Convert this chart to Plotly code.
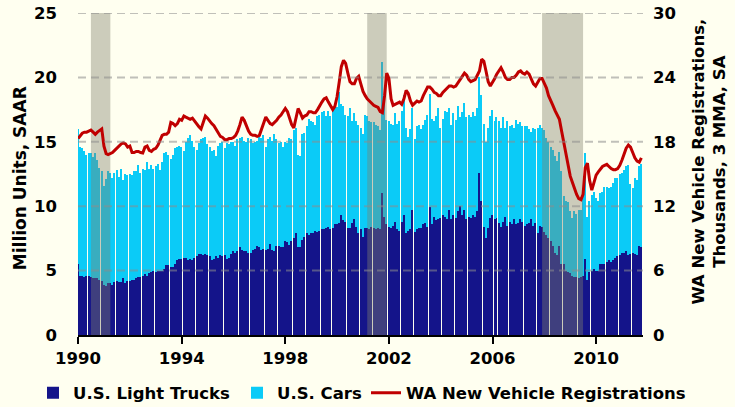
import pandas as pd
import plotly.graph_objects as go

# ---------------- data (monthly, Jan 1990 - Oct 2011) ----------------
us_light_trucks = [
    5.5, 4.6, 4.6, 4.5, 4.6, 4.6, 4.5, 4.4, 4.4, 4.4, 4.3, 4.2,   # 1990
    3.9, 3.8, 4.0, 4.0, 3.9, 4.1, 4.2, 4.1, 4.1, 4.4, 4.0, 4.2,   # 1991
    4.2, 4.3, 4.3, 4.4, 4.5, 4.5, 4.6, 4.7, 4.6, 4.8, 4.9, 5.0,   # 1992
    4.9, 5.0, 5.0, 5.0, 5.1, 5.4, 5.4, 5.3, 5.3, 5.5, 5.8, 5.9,   # 1993
    5.9, 6.0, 6.0, 5.8, 5.9, 5.8, 6.0, 6.1, 6.3, 6.3, 6.2, 6.3,   # 1994
    6.2, 6.1, 5.8, 5.9, 6.1, 6.0, 6.2, 6.1, 6.2, 5.9, 6.0, 6.3,   # 1995
    6.5, 6.4, 6.5, 6.8, 6.6, 6.5, 6.5, 6.4, 6.4, 6.6, 6.7, 6.9,   # 1996
    6.8, 6.6, 6.7, 6.6, 6.7, 7.1, 6.6, 6.5, 6.9, 6.9, 6.8, 6.8,   # 1997
    7.3, 7.2, 7.0, 7.3, 7.5, 7.9, 6.8, 6.8, 7.4, 7.6, 7.9, 7.8,   # 1998
    7.9, 7.9, 8.1, 8.0, 8.1, 8.2, 8.2, 8.3, 8.4, 8.2, 8.3, 8.6,   # 1999
    8.6, 8.7, 9.3, 8.9, 8.8, 8.3, 8.3, 8.7, 9.0, 8.4, 7.9, 8.2,   # 2000
    7.6, 8.3, 8.3, 8.2, 8.4, 8.3, 8.2, 8.3, 8.2, 11.0, 9.2, 8.6,  # 2001
    8.4, 8.3, 8.5, 8.8, 8.2, 8.1, 8.8, 9.3, 7.9, 8.1, 8.2, 9.7,   # 2002
    8.0, 8.2, 8.3, 8.3, 8.6, 8.7, 8.4, 9.9, 8.6, 9.2, 8.9, 9.0,   # 2003
    9.1, 9.3, 9.2, 9.0, 9.7, 9.0, 9.3, 9.1, 9.6, 10.0, 9.3, 9.7,  # 2004
    9.0, 9.2, 9.1, 9.3, 9.2, 9.6, 12.6, 10.4, 8.4, 7.5, 8.3, 9.1, # 2005
    9.3, 9.0, 9.1, 8.7, 8.4, 8.8, 9.2, 8.5, 8.8, 8.6, 9.0, 8.6,   # 2006
    8.7, 9.0, 8.8, 8.5, 8.6, 8.7, 9.0, 8.5, 8.7, 7.9, 8.5, 8.4,   # 2007
    8.0, 7.8, 7.5, 7.3, 6.9, 6.4, 6.2, 6.9, 5.5, 5.5, 5.0, 4.9,   # 2008
    4.8, 4.6, 4.5, 4.5, 4.4, 4.5, 4.6, 5.9, 4.3, 4.9, 5.0, 5.1,   # 2009
    5.0, 5.0, 5.5, 5.5, 5.5, 5.7, 5.8, 5.7, 5.8, 6.0, 6.1, 6.2,   # 2010
    6.4, 6.4, 6.5, 6.2, 6.3, 6.4, 6.3, 6.2, 6.9, 6.8,             # 2011
]

us_cars = [
    10.5, 10.0, 9.9, 9.8, 9.4, 9.5, 9.6, 9.4, 9.7, 9.2, 8.7, 8.5,  # 1990
    7.7, 8.3, 8.7, 8.6, 8.3, 8.5, 8.6, 8.2, 8.8, 7.6, 8.5, 8.2,    # 1991
    8.3, 8.1, 8.4, 8.3, 8.7, 8.1, 8.3, 8.1, 8.8, 8.1, 8.3, 7.9,    # 1992
    8.2, 8.3, 7.8, 8.4, 9.0, 8.8, 8.6, 8.4, 8.7, 9.0, 8.8, 8.8,    # 1993
    8.7, 8.3, 9.0, 9.5, 9.6, 9.3, 8.6, 8.3, 8.6, 8.9, 9.1, 9.1,    # 1994
    8.6, 8.5, 8.5, 8.5, 7.8, 8.7, 8.7, 8.9, 8.3, 9.0, 8.8, 8.7,    # 1995
    8.5, 8.3, 8.7, 8.5, 8.8, 8.6, 8.5, 8.9, 8.8, 8.3, 8.3, 8.2,    # 1996
    8.6, 8.7, 8.8, 8.0, 8.5, 8.3, 8.5, 9.1, 8.3, 8.0, 8.2, 7.8,    # 1997
    7.7, 7.7, 8.3, 7.9, 8.4, 8.2, 7.2, 7.1, 8.2, 8.1, 8.3, 9.0,    # 1998
    8.7, 8.6, 8.2, 9.0, 9.0, 9.1, 9.2, 8.7, 9.0, 8.8, 9.3, 9.3,    # 1999
    9.1, 10.2, 8.6, 8.9, 8.3, 8.7, 9.3, 7.9, 8.2, 8.2, 8.4, 7.9,   # 2000
    8.0, 8.8, 8.7, 8.4, 8.1, 8.2, 8.1, 7.9, 7.7, 10.2, 8.9, 8.1,   # 2001
    8.2, 8.1, 7.8, 8.4, 8.2, 8.5, 8.6, 9.3, 8.2, 7.3, 7.8, 7.9,    # 2002
    7.2, 8.0, 8.0, 7.7, 7.7, 8.0, 8.7, 8.8, 8.2, 7.4, 8.1, 8.6,    # 2003
    7.0, 7.5, 8.2, 8.3, 7.9, 7.3, 7.9, 7.6, 8.2, 6.9, 8.0, 8.3,    # 2004
    7.9, 7.9, 7.8, 8.0, 7.8, 8.0, 7.4, 8.2, 8.0, 7.5, 7.8, 7.9,    # 2005
    8.2, 7.6, 7.8, 7.9, 7.7, 8.1, 6.9, 8.1, 7.4, 7.7, 7.1, 8.1,    # 2006
    7.7, 7.5, 7.4, 7.7, 7.6, 7.3, 6.8, 7.6, 7.3, 8.2, 7.8, 7.7,    # 2007
    7.9, 7.5, 7.5, 7.3, 7.5, 7.5, 7.3, 7.3, 7.2, 5.3, 5.4, 5.4,    # 2008
    4.8, 4.5, 5.1, 4.9, 5.3, 5.2, 6.6, 8.2, 4.9, 5.5, 5.9, 6.0,    # 2009
    5.6, 5.4, 5.5, 5.6, 6.0, 5.8, 5.6, 5.8, 6.0, 6.2, 6.1, 6.3,    # 2010
    6.2, 6.4, 6.6, 7.0, 5.4, 5.0, 5.9, 5.8, 6.2, 6.5,              # 2011
]

wa_registrations = [
    18.3, 18.6, 18.8, 18.9, 18.9, 19.0, 19.1, 18.9, 18.7, 18.9, 19.1, 19.2,  # 1990
    17.6, 16.9, 16.8, 16.9, 17.0, 17.2, 17.4, 17.6, 17.8, 17.9, 17.8, 17.5,  # 1991
    17.6, 17.0, 17.0, 17.1, 17.1, 17.0, 16.95, 17.5, 17.6, 17.2, 17.1, 17.3, # 1992
    17.4, 17.7, 18.1, 18.6, 18.7, 18.7, 18.9, 19.8, 19.7, 19.5, 19.7, 20.1,  # 1993
    20.0, 20.4, 20.3, 20.2, 20.1, 20.2, 19.9, 19.7, 19.4, 19.2, 19.8, 20.4,  # 1994
    20.2, 19.9, 19.7, 19.5, 19.2, 18.8, 18.5, 18.4, 18.2, 18.2, 18.3, 18.3,  # 1995
    18.4, 18.6, 19.0, 19.6, 20.3, 20.0, 19.5, 19.0, 18.7, 18.6, 18.6, 18.5,  # 1996
    18.6, 19.2, 19.8, 20.3, 20.0, 19.7, 19.6, 19.8, 20.0, 20.3, 20.5, 20.8,  # 1997
    21.1, 20.8, 20.3, 19.6, 19.3, 20.4, 21.1, 20.7, 20.2, 20.4, 20.5, 20.8,  # 1998
    20.8, 20.7, 20.7, 21.0, 21.4, 21.7, 22.0, 22.1, 21.7, 21.3, 21.0, 21.3,  # 1999
    22.2, 23.6, 25.0, 25.6, 25.3, 24.4, 23.6, 23.4, 23.4, 23.9, 24.1, 23.4,  # 2000
    22.7, 22.3, 22.0, 21.8, 21.6, 21.4, 21.3, 21.2, 20.8, 20.7, 22.3, 24.4,  # 2001
    23.9, 22.0, 21.4, 21.5, 21.6, 21.7, 21.5, 22.0, 22.8, 22.5, 21.8, 21.4,  # 2002
    21.6, 21.8, 21.7, 21.8, 22.3, 22.8, 23.1, 23.1, 22.9, 22.6, 22.5, 22.3,  # 2003
    22.3, 22.6, 22.8, 23.0, 23.2, 23.2, 23.1, 23.2, 23.5, 23.7, 24.0, 24.4,  # 2004
    24.2, 23.8, 23.6, 23.7, 23.8, 24.2, 24.6, 25.7, 25.5, 24.6, 23.6, 23.2,  # 2005
    23.5, 23.9, 24.3, 24.6, 24.9, 24.5, 24.0, 23.8, 23.8, 24.0, 24.0, 24.2,  # 2006
    24.5, 24.6, 24.4, 24.3, 24.5, 24.3, 23.9, 23.4, 23.2, 23.6, 23.9, 23.9,  # 2007
    23.5, 23.0, 22.3, 21.9, 21.4, 20.9, 20.5, 20.1, 19.0, 18.0, 16.9, 15.8,  # 2008
    14.8, 14.2, 13.6, 13.1, 12.7, 12.6, 13.1, 15.6, 16.0, 14.4, 13.5, 14.3,  # 2009
    14.9, 15.2, 15.5, 15.7, 15.8, 15.9, 15.7, 15.5, 15.4, 15.4, 15.5, 15.8,  # 2010
    16.3, 16.9, 17.4, 17.7, 17.5, 17.0, 16.5, 16.2, 16.1, 16.5,              # 2011
]

recession_starts = ["1990-07-01", "2001-03-01", "2007-12-01"]
recession_ends = ["1991-04-01", "2001-12-01", "2009-07-01"]

year_ticks = [1990, 1994, 1998, 2002, 2006, 2010]
left_ticks = [0, 5, 10, 15, 20, 25]
right_ticks = [0, 6, 12, 18, 24, 30]

# ---------------- styling ----------------
BG = "#FFFFF0"
NAVY = "#14148A"
CYAN = "#0BCBF7"
RED = "#C00000"
FONT = "DejaVu Sans"
W, H = 735, 407

months = pd.date_range("1990-01-01", periods=len(us_light_trucks), freq="MS")
y_top = max(left_ticks)
y2_top = max(right_ticks)

fig = go.Figure()

fig.add_trace(go.Bar(x=months, y=us_light_trucks, name="U.S. Light Trucks",
                     marker=dict(color=NAVY, line=dict(width=0)), yaxis="y",
                     legend="legend"))
fig.add_trace(go.Bar(x=months, y=us_cars, name="U.S. Cars",
                     marker=dict(color=CYAN, line=dict(width=0)), yaxis="y",
                     legend="legend2"))

# recession bands drawn over the bars, under the line
for s, e in zip(recession_starts, recession_ends):
    fig.add_trace(go.Scatter(x=[s, s, e, e, s], y=[0, y_top, y_top, 0, 0],
                             fill="toself", mode="none",
                             fillcolor="rgba(128,128,108,0.40)",
                             showlegend=False, hoverinfo="skip", yaxis="y"))

fig.add_trace(go.Scatter(x=months, y=wa_registrations, name="WA New Vehicle Registrations",
                         mode="lines", line=dict(color=RED, width=3), yaxis="y2",
                         legend="legend3"))

# dashed gridlines drawn above bars (semi-transparent)
for v in left_ticks[1:]:
    fig.add_shape(type="line", xref="paper", x0=0, x1=1, yref="y", y0=v, y1=v,
                  line=dict(color="rgba(140,140,140,0.55)", width=2, dash="8px,5px"),
                  layer="above")

tickfont = dict(family=FONT, size=16.5, color="black", weight="bold")
legfont = dict(family=FONT, size=16.5, color="black", weight="bold")


def leg(px):
    return dict(orientation="h", xref="container", x=px / W, xanchor="left",
                yref="container", y=(H - 393) / H, yanchor="middle",
                font=legfont, bgcolor="rgba(0,0,0,0)")


fig.update_layout(
    width=W, height=H,
    margin=dict(l=78, r=92, t=13, b=72, autoexpand=False),
    paper_bgcolor=BG, plot_bgcolor=BG,
    barmode="stack", bargap=0.28,
    showlegend=True,
    legend=leg(33), legend2=leg(237), legend3=leg(366),
    xaxis=dict(type="date",
               range=["1989-12-31", "2011-10-24"],
               tickvals=[f"{y}-01-01" for y in year_ticks],
               ticktext=[str(y) for y in year_ticks],
               ticks="outside", ticklen=7, tickwidth=2, tickcolor="black",
               showline=True, linecolor="black", linewidth=2,
               showgrid=False, zeroline=False, tickfont=tickfont,
               layer="above traces"),
    yaxis=dict(range=[0, y_top], tickvals=left_ticks, showgrid=False, zeroline=False,
               showline=False, ticks="", tickfont=tickfont, ticklabelstandoff=20),
    yaxis2=dict(range=[0, y2_top], tickvals=right_ticks, overlaying="y", side="right",
                showgrid=False, zeroline=False, showline=False, ticks="",
                tickfont=tickfont, ticklabelstandoff=9),
    annotations=[
        dict(text="Million Units, SAAR", xref="paper", yref="paper",
             x=-0.1027, y=0.487, textangle=-90, showarrow=False,
             xanchor="center", yanchor="middle",
             font=dict(family=FONT, size=17, color="black", weight="bold")),
        dict(text="WA New Vehicle Registrations,<br>Thousands, 3 MMA, SA",
             xref="paper", yref="paper", x=1.1165, y=0.538, textangle=-90,
             showarrow=False, xanchor="center", yanchor="middle",
             font=dict(family=FONT, size=16.5, color="black", weight="bold")),
    ],
)

fig.write_html("out.html",
               config={"displayModeBar": False},
               post_script="document.body.style.margin='0';"
                           "document.body.style.background='#FFFFF0';")
